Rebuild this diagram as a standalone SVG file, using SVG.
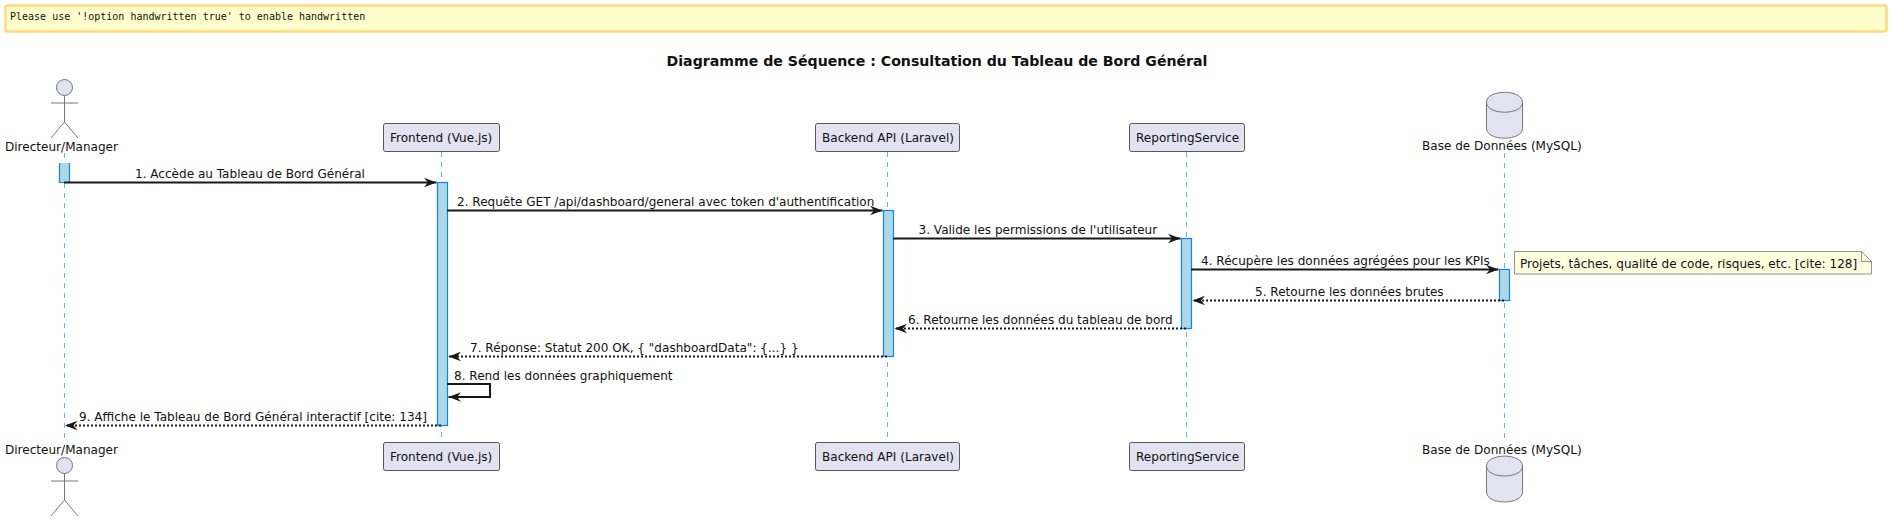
<svg xmlns="http://www.w3.org/2000/svg" width="1892" height="521" viewBox="0 0 1892 521">
<style>
text{font-family:"DejaVu Sans",sans-serif;font-size:12.050px;fill:#111}
.title{font-size:14.130px;font-weight:bold;text-anchor:middle}
.mono{font-family:"DejaVu Sans Mono",monospace;font-size:10px}
.life{stroke:#64B5F6;stroke-width:1;stroke-dasharray:5 5;fill:none}
.act{fill:#ADD8E6;stroke:#0A84FF;stroke-width:1.2}
.box{fill:#E2E2F0;stroke:#181818;stroke-width:.7}
.shape{fill:#E2E2F0;stroke:#777;stroke-width:1}
.open{fill:none;stroke:#777;stroke-width:1}
.msg{stroke:#181818;stroke-width:2;fill:none}
.sync{marker-end:url(#head)}
.ret{stroke-dasharray:2 2;marker-end:url(#head)}
</style>
<defs>
<marker id="head" markerUnits="userSpaceOnUse" markerWidth="15" markerHeight="14" refX="13" refY="7" orient="auto">
<polygon points="13,7 0.500,2.300 4.500,7 0.500,11.700" fill="#181818"/>
</marker>
</defs>
<g id="banner">
<rect x="5.500" y="5.500" width="1881" height="26" rx="2" fill="#FFFFCC" stroke="#FFD97D" stroke-width="2.500"/>
<text class="mono" x="10" y="20">Please use '!option handwritten true' to enable handwritten</text>
</g>
<text id="title" class="title" x="937" y="66">Diagramme de Séquence : Consultation du Tableau de Bord Général</text>
<g id="lifelines">
<line class="life" x1="64.500" y1="153" x2="64.500" y2="442"/>
<line class="life" x1="441.500" y1="152" x2="441.500" y2="442"/>
<line class="life" x1="887.500" y1="152" x2="887.500" y2="442"/>
<line class="life" x1="1186.500" y1="152" x2="1186.500" y2="442"/>
<line class="life" x1="1504.500" y1="153" x2="1504.500" y2="443"/>
</g>
<g id="activations">
<path class="act" d="M59.500 163V182.500H69.500V163"/>
<rect class="act" x="437.500" y="182.500" width="10" height="243"/>
<rect class="act" x="883.500" y="210.500" width="10" height="146"/>
<rect class="act" x="1181.500" y="238.500" width="10" height="90"/>
<rect class="act" x="1499.500" y="269.500" width="10" height="31"/>
</g>
<g id="connectors">
<line class="msg sync" x1="64" y1="182.500" x2="436.500" y2="182.500"/>
<line class="msg sync" x1="447" y1="210.500" x2="882.500" y2="210.500"/>
<line class="msg sync" x1="893" y1="238.500" x2="1180.500" y2="238.500"/>
<line class="msg sync" x1="1191" y1="269.500" x2="1498.500" y2="269.500"/>
<line class="msg ret" x1="1504" y1="300.500" x2="1192.500" y2="300.500"/>
<line class="msg ret" x1="1186" y1="328.500" x2="894.500" y2="328.500"/>
<line class="msg ret" x1="887" y1="356.500" x2="448.500" y2="356.500"/>
<polyline class="msg sync" points="447,384 490,384 490,397 448.500,397"/>
<line class="msg ret" x1="441" y1="425.500" x2="65" y2="425.500"/>
</g>
<g id="labels">
<text x="135" y="178">1. Accède au Tableau de Bord Général</text>
<text x="457" y="206">2. Requête GET /api/dashboard/general avec token d'authentification</text>
<text x="918.500" y="234">3. Valide les permissions de l'utilisateur</text>
<text x="1201" y="265">4. Récupère les données agrégées pour les KPIs</text>
<text x="1255" y="296">5. Retourne les données brutes</text>
<text x="908" y="324">6. Retourne les données du tableau de bord</text>
<text x="470" y="352">7. Réponse: Statut 200 OK, { "dashboardData": {...} }</text>
<text x="454" y="380">8. Rend les données graphiquement</text>
<text x="79" y="421">9. Affiche le Tableau de Bord Général interactif [cite: 134]</text>
</g>
<g id="actor-top">
<circle class="shape" cx="64.500" cy="87.500" r="8"/>
<path class="open" d="M64.500 95.500V122M51 103H78M64.500 122L51 138M64.500 122L78 138"/>
<text x="5" y="151">Directeur/Manager</text>
</g>
<g id="frontend-top">
<rect class="box" x="383.500" y="123.500" width="116" height="28" rx="2"/>
<text x="390" y="142">Frontend (Vue.js)</text>
</g>
<g id="backend-top">
<rect class="box" x="815.500" y="123.500" width="144" height="28" rx="2"/>
<text x="822" y="142">Backend API (Laravel)</text>
</g>
<g id="reporting-top">
<rect class="box" x="1129.500" y="123.500" width="115" height="28" rx="2"/>
<text x="1136" y="142">ReportingService</text>
</g>
<g id="database-top">
<path class="shape" d="M1486.500 102.300C1486.500 89 1522.500 89 1522.500 102.300V128.300C1522.500 141.500 1486.500 141.500 1486.500 128.300Z"/>
<path class="open" d="M1486.500 102.300C1486.500 115.500 1522.500 115.500 1522.500 102.300"/>
<text x="1422" y="150">Base de Données (MySQL)</text>
</g>
<g id="note">
<path d="M1514.500 251.500H1861.500L1871.500 261.500V274H1514.500Z" fill="#FEFFDD" stroke="#777" stroke-width=".8"/>
<path d="M1861.500 251.500V261.500H1871.500" fill="none" stroke="#777" stroke-width=".8"/>
<text x="1520" y="268">Projets, tâches, qualité de code, risques, etc. [cite: 128]</text>
</g>
<g id="actor-bottom">
<text x="5" y="454">Directeur/Manager</text>
<circle class="shape" cx="64.500" cy="465.500" r="8"/>
<path class="open" d="M64.500 473.500V500M51 481H78M64.500 500L51 516M64.500 500L78 516"/>
</g>
<g id="frontend-bottom">
<rect class="box" x="383.500" y="442.500" width="116" height="28" rx="2"/>
<text x="390" y="461">Frontend (Vue.js)</text>
</g>
<g id="backend-bottom">
<rect class="box" x="815.500" y="442.500" width="144" height="28" rx="2"/>
<text x="822" y="461">Backend API (Laravel)</text>
</g>
<g id="reporting-bottom">
<rect class="box" x="1129.500" y="442.500" width="115" height="28" rx="2"/>
<text x="1136" y="461">ReportingService</text>
</g>
<g id="database-bottom">
<text x="1422" y="454">Base de Données (MySQL)</text>
<path class="shape" d="M1486.500 466C1486.500 452.800 1522.500 452.800 1522.500 466V492C1522.500 505.300 1486.500 505.300 1486.500 492Z"/>
<path class="open" d="M1486.500 466C1486.500 479.300 1522.500 479.300 1522.500 466"/>
</g>
</svg>
